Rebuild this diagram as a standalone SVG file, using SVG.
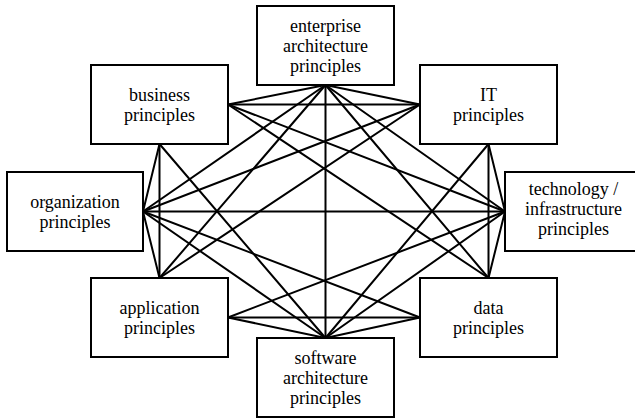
<svg xmlns="http://www.w3.org/2000/svg" width="635" height="418" viewBox="0 0 635 418">
<style>
.box{fill:#fff;stroke:#000;stroke-width:2}
text{font-size:18px;fill:#000;text-anchor:middle}
#connectors line{stroke:#000;stroke-width:2;stroke-linecap:round}
</style>
<rect width="635" height="418" fill="#fff"/>
<g id="connectors">
<line x1="325.5" y1="85" x2="325.5" y2="338"/>
<line x1="325.5" y1="85" x2="228" y2="104.5"/>
<line x1="325.5" y1="85" x2="420" y2="104.5"/>
<line x1="325.5" y1="85" x2="143" y2="211.5"/>
<line x1="325.5" y1="85" x2="505" y2="211.5"/>
<line x1="325.5" y1="85" x2="159.5" y2="278"/>
<line x1="325.5" y1="85" x2="488.5" y2="278"/>
<line x1="325.5" y1="338" x2="159.5" y2="144"/>
<line x1="325.5" y1="338" x2="488.5" y2="144"/>
<line x1="325.5" y1="338" x2="143" y2="211.5"/>
<line x1="325.5" y1="338" x2="505" y2="211.5"/>
<line x1="325.5" y1="338" x2="228" y2="317.5"/>
<line x1="325.5" y1="338" x2="420" y2="317.5"/>
<line x1="143" y1="211.5" x2="505" y2="211.5"/>
<line x1="143" y1="211.5" x2="159.5" y2="144"/>
<line x1="143" y1="211.5" x2="159.5" y2="278"/>
<line x1="143" y1="211.5" x2="420" y2="104.5"/>
<line x1="143" y1="211.5" x2="420" y2="317.5"/>
<line x1="505" y1="211.5" x2="228" y2="104.5"/>
<line x1="505" y1="211.5" x2="488.5" y2="144"/>
<line x1="505" y1="211.5" x2="488.5" y2="278"/>
<line x1="505" y1="211.5" x2="228" y2="317.5"/>
<line x1="228" y1="104.5" x2="420" y2="104.5"/>
<line x1="159.5" y1="144" x2="159.5" y2="278"/>
<line x1="228" y1="104.5" x2="488.5" y2="278"/>
<line x1="488.5" y1="144" x2="488.5" y2="278"/>
<line x1="420" y1="104.5" x2="159.5" y2="278"/>
<line x1="228" y1="317.5" x2="420" y2="317.5"/>
</g>
<g font-family="Liberation Serif, Tinos, Times New Roman, DejaVu Serif, serif">
<g id="node-enterprise">
<rect class="box" x="257" y="6" width="137" height="79"/>
<text x="325.5" y="32">enterprise</text>
<text x="325.5" y="52">architecture</text>
<text x="325.5" y="72">principles</text>
</g>
<g id="node-business">
<rect class="box" x="91" y="65" width="137" height="79"/>
<text x="159.5" y="101">business</text>
<text x="159.5" y="121">principles</text>
</g>
<g id="node-it">
<rect class="box" x="420" y="65" width="137" height="79"/>
<text x="488.5" y="101">IT</text>
<text x="488.5" y="121">principles</text>
</g>
<g id="node-organization">
<rect class="box" x="7" y="172" width="136" height="79"/>
<text x="75" y="208">organization</text>
<text x="75" y="228">principles</text>
</g>
<g id="node-technology">
<rect class="box" x="505" y="172" width="137" height="79"/>
<text x="573.5" y="195">technology /</text>
<text x="573.5" y="215">infrastructure</text>
<text x="573.5" y="235">principles</text>
</g>
<g id="node-application">
<rect class="box" x="91" y="278" width="137" height="79"/>
<text x="159.5" y="314">application</text>
<text x="159.5" y="334">principles</text>
</g>
<g id="node-data">
<rect class="box" x="420" y="278" width="137" height="79"/>
<text x="488.5" y="314">data</text>
<text x="488.5" y="334">principles</text>
</g>
<g id="node-software">
<rect class="box" x="257" y="338" width="137" height="79"/>
<text x="325.5" y="364">software</text>
<text x="325.5" y="384">architecture</text>
<text x="325.5" y="404">principles</text>
</g>
</g>
</svg>
